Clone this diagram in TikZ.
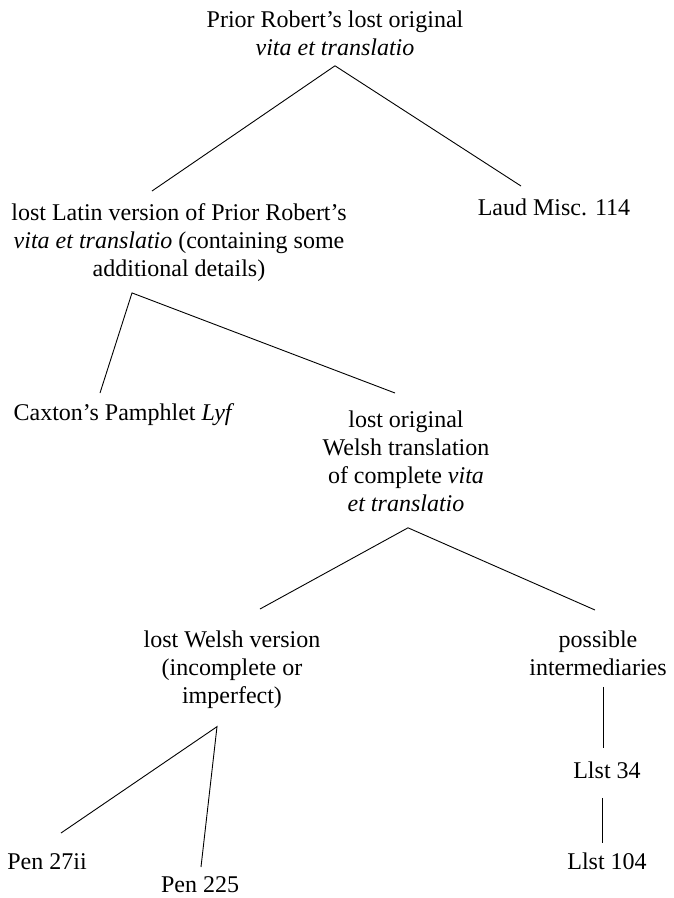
\documentclass[tikz,border=0pt]{standalone}
\usepackage{fontspec}
\setmainfont{Liberation Serif}
\usetikzlibrary{positioning}
\tikzset{ms/.style = {align=center, inner sep=0pt, anchor=north,
                  font=\fontsize{24}{28}\selectfont},
        link/.style = {line width=0.9pt}
    }

\begin{document}
\begin{tikzpicture}[x=1pt, y=-1pt]
          \useasboundingbox (0,0) rectangle (674,898);

          % manuscripts and lost versions
          \node[ms] (root) at (335,10.5) {Prior Robert's lost original\\\textit{vita et translatio}};
          \node[ms] (latin) at (179,203.5) {lost Latin version of Prior Robert's\\\textit{vita et translatio} (containing some\\additional details)};
          \node[ms] (laud) at (554,198.5) {Laud Misc. 114};
          \node[ms] (caxton) at (124,403.5) {Caxton's Pamphlet \textit{Lyf}};
          \node[ms] (welsh) at (406,410.5) {lost original\\Welsh translation\\of complete \textit{vita}\\\textit{et translatio}};
          \node[ms] (lostwelsh) at (232,630.5) {lost Welsh version\\(incomplete or\\imperfect)};
          \node[ms] (inter) at (598,630.5) {possible\\intermediaries};
          \node[ms] (llstA) at (607,761.5) {Llst 34};
          \node[ms] (llstB) at (607,852.5) {Llst 104};
          \node[ms] (penA) at (47,853.5) {Pen 27ii};
          \node[ms] (penB) at (200,876.5) {Pen 225};

          % forks
          \coordinate (rootfork) at ([shift={(0,10)}]root.south);
          \coordinate (latinfork) at ([shift={(-47,11)}]latin.south);
          \coordinate (welshfork) at ([shift={(2,16)}]welsh.south);
          \coordinate (lostfork) at ([shift={(-15,18)}]lostwelsh.south);

          \draw[link] ([shift={(-27,-12.5)}]latin.north) -- (rootfork) -- ([shift={(-33,-12.5)}]laud.north);
          \draw[link] ([shift={(-24,-10.5)}]caxton.north) -- (latinfork) -- ([shift={(-11,-17.5)}]welsh.north);
          \draw[link] ([shift={(28,-21.5)}]lostwelsh.north) -- (welshfork) -- ([shift={(-3,-20.5)}]inter.north);
          \draw[link] ([shift={(14,-20.5)}]penA.north) -- (lostfork) -- ([shift={(1,-9.5)}]penB.north);
          \draw[link] ([shift={(5,11)}]inter.south) -- ([shift={(-4,-13.5)}]llstA.north);
          \draw[link] ([shift={(-5,19)}]llstA.south) -- ([shift={(-5,-9.5)}]llstB.north);
        \end{tikzpicture}
\end{document}
